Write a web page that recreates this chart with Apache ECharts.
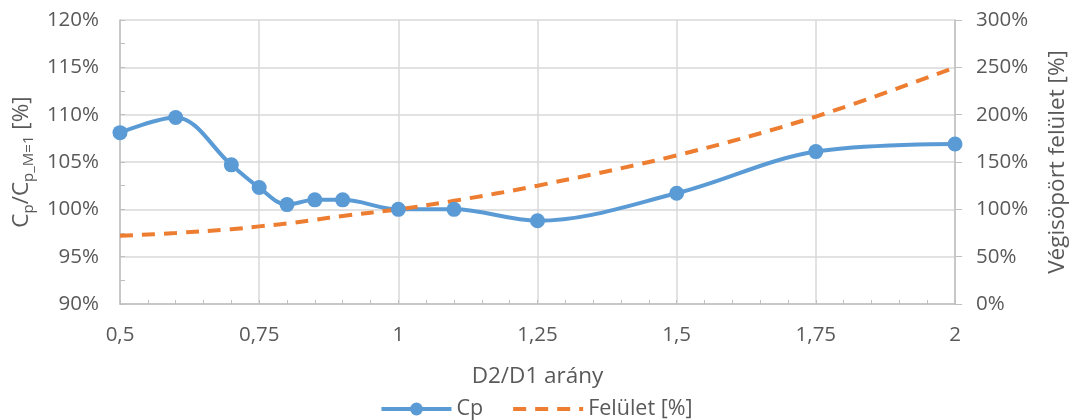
<!DOCTYPE html>
<html>
<head>
<meta charset="utf-8">
<script src="https://cdn.jsdelivr.net/npm/echarts@6/dist/echarts.min.js"></script>
<style>
html,body{margin:0;padding:0;background:#fff;}
#c{width:1072px;height:420px;}
</style>
</head>
<body>
<div id="c"></div>
<script>
const ratios = [0.5, 0.6, 0.7, 0.75, 0.8, 0.85, 0.9, 1, 1.1, 1.25, 1.5, 1.75, 2];
const cpValues = [108.1, 109.7, 104.7, 102.3, 100.5, 101.0, 101.0, 100.0, 100.0, 98.8, 101.7, 106.1, 106.9];
const areaValues = [72, 75, 79, 82, 85, 89, 93, 100, 109, 125, 157, 198, 250];
const xTicks = [0.5, 0.75, 1, 1.25, 1.5, 1.75, 2];
const leftTicks = [90, 95, 100, 105, 110, 115, 120];
const rightTicks = [0, 50, 100, 150, 200, 250, 300];

const FONT = 'Open Sans';
const TXT = '#595959';
const GRID = '#d9d9d9';
const AX = '#bfbfbf';
const LBL = 20.5, TTL = 22.5, LEG = 21.5;

const chart = echarts.init(document.getElementById('c'), null, {renderer: 'canvas'});
chart.setOption({
  animation: false,
  textStyle: {fontFamily: FONT, color: TXT},
  grid: {left: 120, right: 117, top: 20, bottom: 116, containLabel: false, outerBoundsMode: 'none'},
  legend: {
    bottom: -5, left: 'center',
    itemWidth: 70, itemHeight: 16, itemGap: 28,
    textStyle: {fontFamily: FONT, fontSize: LEG, color: TXT},
    data: [
      {name: 'Cp', lineStyle: {width: 4}},
      {name: 'Felület [%]', itemStyle: {opacity: 0}, lineStyle: {width: 4}}
    ]
  },
  xAxis: {
    type: 'value',
    min: xTicks[0], max: xTicks[xTicks.length - 1], interval: 0.25,
    name: 'D2/D1 arány', nameLocation: 'middle', nameGap: 61,
    nameTextStyle: {fontFamily: FONT, fontSize: TTL, color: TXT},
    axisLine: {show: true, lineStyle: {color: AX, width: 1.5}},
    axisTick: {show: true, inside: true, length: 4, lineStyle: {color: AX}},
    minorTick: {show: true, splitNumber: 5, length: 4, lineStyle: {color: AX}},
    splitLine: {show: true, lineStyle: {color: GRID, width: 1.5}},
    axisLabel: {margin: 21, fontSize: LBL, color: TXT, fontFamily: FONT,
      formatter: v => String(v).replace('.', ',')}
  },
  yAxis: [{
    type: 'value',
    min: leftTicks[0], max: leftTicks[leftTicks.length - 1], interval: 5,
    name: 'C{s|p}/C{s|p_M=1} [%]', nameLocation: 'middle', nameGap: 83, nameRotate: 90,
    nameTextStyle: {fontFamily: FONT, fontSize: TTL, color: TXT,
      rich: {s: {fontFamily: FONT, fontSize: 15, color: TXT, padding: [13, 0, 0, 0]}}},
    axisLine: {show: true, lineStyle: {color: AX, width: 1.5}},
    axisTick: {show: true, inside: true, length: 5, lineStyle: {color: AX}},
    minorTick: {show: true, splitNumber: 2, length: 5, lineStyle: {color: AX}},
    splitLine: {show: true, lineStyle: {color: GRID, width: 1.5}},
    axisLabel: {margin: 21, fontSize: LBL, color: TXT, fontFamily: FONT, formatter: v => v + '%'}
  }, {
    type: 'value',
    min: rightTicks[0], max: rightTicks[rightTicks.length - 1], interval: 50,
    name: 'Végisöpört felület [%]', nameLocation: 'middle', nameGap: 91, nameRotate: 90,
    nameTextStyle: {fontFamily: FONT, fontSize: TTL, color: TXT},
    axisLine: {show: true, lineStyle: {color: AX, width: 1.5}},
    axisTick: {show: true, inside: false, length: 7, lineStyle: {color: AX}},
    splitLine: {show: false},
    axisLabel: {margin: 21, fontSize: LBL, color: TXT, fontFamily: FONT, formatter: v => v + '%'}
  }],
  series: [{
    name: 'Cp', type: 'line', yAxisIndex: 0,
    data: ratios.map((x, i) => [x, cpValues[i]]),
    smooth: 0.35,
    symbol: 'circle', symbolSize: 15,
    lineStyle: {color: '#5b9bd5', width: 4},
    itemStyle: {color: '#5b9bd5'}
  }, {
    name: 'Felület [%]', type: 'line', yAxisIndex: 1,
    data: ratios.map((x, i) => [x, areaValues[i]]),
    smooth: 0.35,
    symbol: 'none',
    lineStyle: {color: '#ed7d31', width: 4, type: [13, 9]},
    itemStyle: {color: '#ed7d31'}
  }]
});
</script>
</body>
</html>
